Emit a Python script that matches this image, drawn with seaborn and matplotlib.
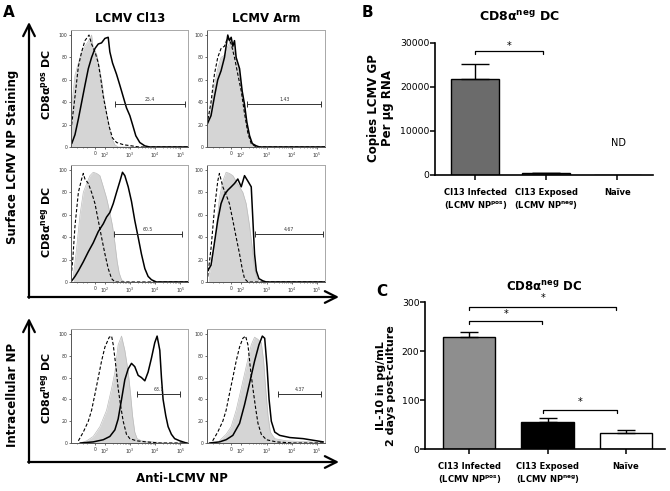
import numpy as np
import pandas as pd
import seaborn as sns
import matplotlib.pyplot as plt

sns.set_theme(style="ticks", rc={'text.color': 'black', 'axes.labelcolor': 'black',
                                 'xtick.color': 'black', 'ytick.color': 'black'})
plt.rcParams['font.family'] = ['DejaVu Sans']
plt.rcParams['mathtext.fontset'] = 'dejavusans'

# ---------- panel A: flow histograms, x in % of axis width, y in % of max ----------
flow_tick_pos = [20.5, 29, 50.5, 72, 93.5]
flow_tick_lab = ['0', '10$^2$', '10$^3$', '10$^4$', '10$^5$']

# CD8a pos DC, Cl13
pos_cl13_gray = [(0, 30), (3.4, 64), (6.3, 75), (9.1, 85), (11.9, 90), (14, 93), (16.2, 97), (17.6, 100),
                 (19, 88), (21.9, 83), (24.1, 72), (26.1, 60), (28.1, 45), (30.4, 30), (32.7, 18),
                 (34.7, 8), (37.5, 2), (40.3, 0), (100, 0)]
pos_cl13_dash = [(0, 15), (3.4, 45), (6.3, 72), (9.1, 85), (11.9, 95), (15.4, 100), (17.6, 92), (20.5, 85),
                 (23.3, 75), (25.6, 60), (27.6, 45), (30.4, 30), (32.7, 18), (35.5, 8), (39, 4), (45, 2),
                 (52, 1), (58, 0), (100, 0)]
pos_cl13_line = [(0.6, 3), (3.4, 11), (6.3, 25), (9.1, 40), (11.9, 55), (14.8, 70), (17.6, 80), (20.5, 88),
                 (23.3, 92), (26.1, 93), (29, 97), (31.8, 98), (33.2, 85), (35.5, 75), (38.9, 65), (41.8, 55),
                 (44.6, 45), (47.4, 35), (50.3, 28), (52.6, 20), (55.4, 10), (58.8, 4), (63.1, 1), (67.3, 0),
                 (100, 0)]
# CD8a pos DC, Arm
pos_arm_gray = [(0, 22), (3.4, 35), (6.3, 55), (9.1, 70), (11.9, 80), (14.8, 82), (17.6, 90), (20.5, 95),
                (23.3, 85), (26.1, 75), (29, 55), (31.8, 35), (34.7, 15), (37.5, 5), (40.3, 1), (43.2, 0),
                (100, 0)]
pos_arm_dash = [(0, 20), (3.4, 40), (6.3, 65), (9.1, 80), (11.9, 88), (14.8, 90), (17.6, 98), (20.5, 92),
                (23.3, 80), (26.1, 65), (29, 50), (31.8, 30), (34.7, 12), (37.5, 3), (41.8, 0), (100, 0)]
pos_arm_line = [(0, 20), (3.4, 28), (6.3, 45), (9.1, 60), (11.9, 68), (14.8, 80), (16.2, 90), (17.6, 100),
                (19, 95), (20.5, 98), (21.9, 90), (23.3, 95), (24.7, 80), (27.6, 70), (29.8, 50), (31.8, 38),
                (33.8, 22), (36.1, 10), (38.4, 3), (41.8, 1), (44.6, 0), (100, 0)]
# CD8a neg DC, Cl13
neg_cl13_gray = [(2, 5), (4.8, 30), (7.7, 60), (10.5, 80), (13.4, 88), (16.2, 95), (19, 98), (21.9, 97),
                 (24.7, 95), (27.6, 85), (30.4, 75), (33.2, 62), (35.5, 50), (37.5, 35), (39.5, 18),
                 (41.2, 8), (43.2, 2), (46, 0), (100, 0)]
neg_cl13_dash = [(0.6, 10), (1.5, 20), (3.4, 50), (6.3, 80), (9.1, 92), (10.5, 97), (11.9, 92), (14.8, 88),
                 (17.6, 80), (20.5, 70), (23.3, 55), (26.1, 40), (29, 25), (31.8, 12), (34.7, 3), (37.5, 0),
                 (100, 0)]
neg_cl13_line = [(0.6, 1), (3.4, 5), (6.3, 10), (10.5, 18), (14.8, 27), (19, 35), (23.3, 45), (27.6, 52),
                 (30.4, 58), (33.2, 62), (36.1, 70), (38.9, 80), (41.8, 90), (44, 98), (46, 95), (48.9, 85),
                 (51.7, 72), (54.5, 55), (57.4, 40), (60.2, 25), (63.1, 12), (65.9, 5), (68.8, 2), (73, 0),
                 (100, 0)]
# CD8a neg DC, Arm
neg_arm_gray = [(1.4, 5), (4.8, 20), (7.7, 45), (10.5, 75), (13.4, 90), (16.2, 98), (19, 97), (21.9, 95),
                (24.7, 90), (27.6, 85), (30.4, 80), (33.2, 70), (36.1, 50), (38.4, 30), (40.3, 12),
                (42.3, 4), (44.6, 0), (100, 0)]
neg_arm_dash = [(0.6, 5), (3.4, 30), (6.3, 65), (9.1, 90), (10.5, 97), (13.4, 85), (16.2, 78), (19, 70),
                (21.9, 55), (24.7, 40), (27.6, 25), (29.8, 12), (31.8, 3), (34.7, 0), (100, 0)]
neg_arm_line = [(0.6, 10), (3.4, 15), (6.3, 35), (9.1, 55), (11.9, 70), (14.8, 78), (17.6, 82), (20.5, 85),
                (23.3, 88), (26.1, 92), (29, 85), (31.8, 95), (34.7, 90), (37.5, 85), (38.9, 55), (40.3, 25),
                (41.8, 10), (44, 3), (47.4, 1), (50.3, 0), (100, 0)]
# intracellular NP, CD8a neg DC, Cl13
ic_cl13_gray = [(7.7, 0), (13.4, 2), (19, 6), (24.7, 15), (30.4, 30), (34.7, 50), (37.5, 65), (40.3, 90),
                (43.2, 98), (46, 85), (48.9, 65), (50.9, 45), (52.6, 25), (54.5, 10), (56.5, 4), (60.2, 2),
                (70.2, 1), (81.5, 0), (100, 0)]
ic_cl13_dash = [(6.3, 2), (10.5, 10), (14.8, 20), (17.6, 30), (20.5, 45), (23.3, 60), (26.1, 75), (29, 88),
                (32.7, 97), (34.7, 98), (36.1, 90), (38.4, 70), (40.3, 50), (42.3, 35), (44.6, 20), (47.4, 8),
                (50.3, 4), (56, 2), (64.5, 1), (75.9, 0), (100, 0)]
ic_cl13_line = [(7.7, 0), (19, 1), (27.6, 3), (33.2, 6), (37.5, 12), (40.3, 22), (43.2, 40), (46, 58),
                (48.9, 68), (51.7, 73), (54.5, 70), (57.4, 62), (60.2, 60), (63.1, 57), (65.9, 65), (68.8, 78),
                (71.6, 92), (73.6, 98), (75.9, 85), (77.3, 60), (78.7, 40), (81, 25), (83, 15), (85.8, 8),
                (88.6, 4), (92.9, 2), (98.6, 0)]
# intracellular NP, CD8a neg DC, Arm
ic_arm_gray = [(10.5, 2), (16.2, 8), (20.5, 15), (24.7, 30), (29, 50), (33.2, 70), (37.5, 90), (40.3, 97),
               (43.2, 95), (46, 92), (48, 75), (49.7, 50), (51.7, 25), (53.7, 10), (57.4, 4), (67.3, 2),
               (87.2, 1), (98.6, 0)]
ic_arm_dash = [(4.8, 2), (9.1, 10), (13.4, 20), (16.2, 30), (19, 45), (21.9, 60), (24.7, 75), (27.6, 88),
               (30.4, 96), (32.7, 98), (34.7, 90), (36.6, 70), (38.9, 50), (41.2, 32), (43.2, 18), (46, 8),
               (50.3, 3), (58.8, 1), (73, 0), (100, 0)]
ic_arm_line = [(2, 0), (10.5, 1), (16.2, 3), (21.9, 7), (27.6, 18), (31.8, 35), (36.1, 55), (40.3, 75),
               (44, 90), (46.9, 98), (48.9, 96), (50.9, 70), (52.6, 40), (54.5, 20), (57.4, 10), (61.6, 7),
               (70.2, 5), (81.5, 4), (92.9, 2), (98.6, 1)]

gate_pct = ['25.4', '1.43', '60.5', '4.67', '63.1', '4.37']
gate_from = [37.5, 34, 36.6, 40.9, 56.5, 60.2]
gate_to = [97.7, 97, 95.2, 98.3, 93.5, 97]
gate_y = [38.4, 38.4, 42.9, 43, 44.8, 45]

# ---------- panel B / C ----------
groups = ['Cl13 Infected\n(LCMV NP$^{\\mathbf{pos}}$)', 'Cl13 Exposed\n(LCMV NP$^{\\mathbf{neg}}$)', 'Naïve']
gp_copies = [21800, 350, 0]
gp_sem = [3450, 150, 0]
il10 = [230, 56.5, 32.6]
il10_sem = [9.5, 6.7, 6.8]

W, H = 670, 491
fig = plt.figure(figsize=(W / 100, H / 100), dpi=100)


def box(l, t, r, b):
    return fig.add_axes([l / W, 1 - b / H, (r - l) / W, (b - t) / H])


over = box(0, 0, W, H)
over.set_xlim(0, W)
over.set_ylim(H, 0)
over.axis('off')

minor = [5.5, 10, 13.5]
for a, b in zip(flow_tick_pos[1:-1], flow_tick_pos[2:]):
    minor += [a + (b - a) * np.log10(k) for k in range(2, 10)]


def flow(ax, gray, dash, line, i):
    gx, gy = zip(*gray)
    ax.fill_between(gx, gy, color='#d5d5d5', lw=0)
    ax.plot(gx, gy, color='#bcbcbc', lw=0.5)
    dx, dy = zip(*dash)
    sns.lineplot(x=list(dx), y=list(dy), ax=ax, color='black', lw=0.8, ls=(0, (3, 1.8)))
    sx, sy = zip(*line)
    sns.lineplot(x=list(sx), y=list(sy), ax=ax, color='black', lw=1.1)
    ax.plot([gate_from[i], gate_to[i]], [gate_y[i]] * 2, color='#333333', lw=0.7,
            marker='|', markersize=4, markeredgewidth=0.7)
    ax.text((gate_from[i] + gate_to[i]) / 2, gate_y[i] + 2, gate_pct[i], fontsize=3.3,
            ha='center', va='bottom', color='#333333')
    ax.set_xlim(0, 100)
    ax.set_ylim(0, 104.5)
    ax.set_xticks(flow_tick_pos)
    ax.set_xticklabels(flow_tick_lab, fontsize=3.3)
    ax.set_xticks(minor, minor=True)
    ax.set_yticks([0, 20, 40, 60, 80, 100])
    ax.set_yticklabels(['0', '20', '40', '60', '80', '100'], fontsize=3.3)
    ax.tick_params(length=1.6, width=0.5, pad=1, colors='#333333')
    ax.tick_params(which='minor', length=1, width=0.4, colors='#333333')
    for s in ['top', 'right']:
        ax.spines[s].set_color('#a8a8a8')
    for s in ['left', 'bottom']:
        ax.spines[s].set_color('#555555')
    for s in ax.spines.values():
        s.set_linewidth(0.7)
    ax.set_xlabel('')
    ax.set_ylabel('')


rows = [(30, 147), (165, 282), (329, 443)]
cols = [(71, 188), (207, 325)]
curves = [(pos_cl13_gray, pos_cl13_dash, pos_cl13_line), (pos_arm_gray, pos_arm_dash, pos_arm_line),
          (neg_cl13_gray, neg_cl13_dash, neg_cl13_line), (neg_arm_gray, neg_arm_dash, neg_arm_line),
          (ic_cl13_gray, ic_cl13_dash, ic_cl13_line), (ic_arm_gray, ic_arm_dash, ic_arm_line)]
for i, c in enumerate(curves):
    t, b = rows[i // 2]
    l, r = cols[i % 2]
    flow(box(l, t, r, b), *c, i)

bold = dict(fontweight='bold', ha='center', va='center', color='black')
over.text(9, 12.5, 'A', fontsize=11, **bold)
over.text(130, 18, 'LCMV Cl13', fontsize=8.5, **bold)
over.text(266, 18, 'LCMV Arm', fontsize=8.5, **bold)
over.text(13, 157, 'Surface LCMV NP Staining', fontsize=8.5, rotation=90, **bold)
over.text(13, 395, 'Intracellular NP', fontsize=8.5, rotation=90, **bold)
over.text(46, 84, 'CD8α$^{\\mathbf{pos}}$ DC', fontsize=8, rotation=90, **bold)
over.text(46, 222, 'CD8α$^{\\mathbf{neg}}$ DC', fontsize=8, rotation=90, **bold)
over.text(46, 388, 'CD8α$^{\\mathbf{neg}}$ DC', fontsize=8, rotation=90, **bold)
over.text(182, 478, 'Anti-LCMV NP', fontsize=8.5, **bold)

arrow = dict(arrowstyle='->,head_length=0.7,head_width=0.35', lw=1.6, color='black', shrinkA=0, shrinkB=0)
for top, base in [(22, 297), (318, 462)]:
    over.annotate('', xy=(29, top), xytext=(29, base + 0.8), arrowprops=arrow)
    over.annotate('', xy=(339, base), xytext=(28.2, base), arrowprops=arrow)

# panel letters / titles for B and C
over.text(367, 12, 'B', fontsize=11, **bold)
over.text(519, 17, 'CD8α$^{\\mathbf{neg}}$ DC', fontsize=9, **bold)
over.text(382, 292, 'C', fontsize=11, **bold)
over.text(544, 287, 'CD8α$^{\\mathbf{neg}}$ DC', fontsize=8.5, **bold)
over.text(380, 108, 'Copies LCMV GP\nPer μg RNA', fontsize=8.5, rotation=90, linespacing=1.1, **bold)
over.text(386, 386, 'IL-10 in pg/mL\n2 days post-culture', fontsize=8, rotation=90, linespacing=1.1, **bold)
over.text(618, 143, 'ND', fontsize=7, ha='center', va='center', color='black')


def bars(ax, vals, errs, colors, cap, top, ymax, ticks):
    sns.barplot(x=groups, y=vals, hue=groups, palette=colors, edgecolor='black', linewidth=1,
                width=0.67, legend=False, ax=ax)
    idx = [k for k in range(3) if errs[k] > 0]
    ax.errorbar(idx, [vals[k] for k in idx], yerr=[[0] * len(idx), [errs[k] for k in idx]],
                fmt='none', ecolor='black', elinewidth=1, capsize=cap, capthick=1, zorder=5)
    sns.despine(ax=ax)
    ax.set_ylim(0, ymax)
    ax.set_xlim(-0.565, 2.5)
    ax.spines['left'].set_bounds(0, top)
    for s in ['left', 'bottom']:
        ax.spines[s].set_linewidth(1.2)
        ax.spines[s].set_color('black')
    ax.set_yticks(ticks)
    ax.set_yticklabels([str(t) for t in ticks], fontsize=6.7)
    ax.tick_params(axis='y', length=3.5, width=1.1, pad=0.5, colors='black')
    ax.tick_params(axis='x', length=3.5, width=1.1, pad=6, colors='black')
    for lab in ax.get_xticklabels():
        lab.set_fontsize(6)
        lab.set_fontweight('bold')
    ax.set_xlabel('')
    ax.set_ylabel('')
    ax.patch.set_alpha(0)


def bracket(ax, x0, x1, y, drop, star_y):
    ax.plot([x0, x0, x1, x1], [y - drop, y, y, y - drop], color='black', lw=0.9)
    ax.text((x0 + x1) / 2, star_y, '*', fontsize=7, ha='center', va='center', color='black')


axB = box(435, 29.5, 653, 175)
bars(axB, gp_copies, gp_sem, ['#6b6b6b', '#6b6b6b', '#6b6b6b'], 10, 30000, 33000, [0, 10000, 20000, 30000])
bracket(axB, 0, 0.95, 28100, 700, 29300)

axC = box(425, 287.6, 665, 449.3)
bars(axC, il10, il10_sem, ['#8e8e8e', '#000000', '#ffffff'], 6.5, 300, 330, [0, 100, 200, 300])
bracket(axC, 0, 1.88, 290, 6, 308)
bracket(axC, 0, 0.93, 262, 6, 277)
bracket(axC, 0.94, 1.89, 80, 6, 96)

fig.savefig('out.png', dpi=100)
